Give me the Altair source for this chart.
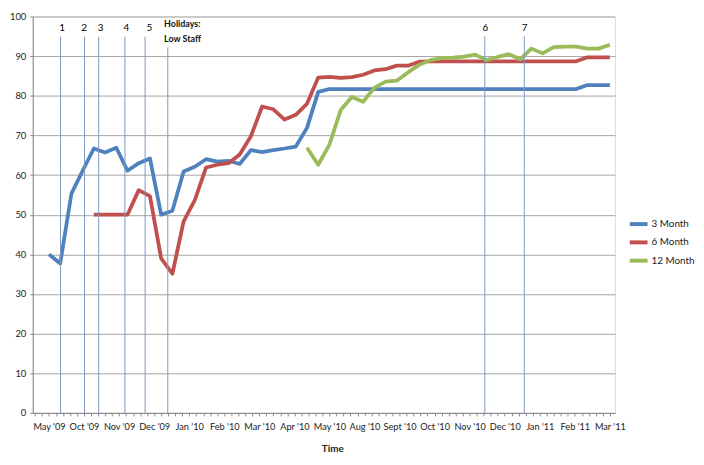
import json
import altair as alt
import pandas as pd

# ---- data ----
x_labels = ["May '09", "Oct '09", "Nov '09", "Dec '09", "Jan '10", "Feb '10",
            "Mar '10", "Apr '10", "May '10", "Aug '10", "Sept '10", "Oct '10",
            "Nov '10", "Dec '10", "Jan '11", "Feb '11", "Mar '11"]

series_names = ["3 Month", "6 Month", "12 Month"]
series_colors = ["#4F81BD", "#C0504D", "#9BBB59"]

m3_start = 0
m3 = [40.0, 37.7, 55.3, 61.1, 66.7, 65.7, 66.9, 61.1, 63.0, 64.2,
      50.0, 51.0, 60.9, 62.1, 64.0, 63.4, 63.6, 62.8, 66.3, 65.8,
      66.3, 66.7, 67.2, 71.9, 81.0] + [81.7] * 23 + [82.7] * 3

m6_start = 4
m6 = [50.0, 50.0, 50.0, 50.0, 56.2, 54.7, 39.0, 35.1, 48.3, 53.7,
      61.9, 62.6, 63.0, 65.2, 69.8, 77.3, 76.6, 74.0, 75.2, 78.0,
      84.6, 84.8, 84.5, 84.7, 85.3, 86.4, 86.7, 87.6, 87.6, 88.6] + [88.7] * 14 + [89.7] * 3

m12_start = 23
m12 = [66.9, 62.6, 67.7, 76.4, 79.7, 78.5, 82.0, 83.6, 83.8, 85.9,
       87.8, 89.0, 89.5, 89.6, 89.9, 90.4, 89.0, 89.8, 90.5, 89.2,
       91.9, 90.7, 92.3, 92.4, 92.4, 91.9, 91.9, 92.9]

# annotation markers (vertical lines) and their labels
marker_x = [1.03, 3.17, 4.43, 6.77, 8.57, 10.59, 38.85, 42.37]
marker_top = [94.9, 94.9, 94.9, 94.9, 94.9, 92.2, 95.0, 95.0]
num_labels = ["1", "2", "3", "4", "5", "6", "7"]
num_label_x = [1.18, 3.14, 4.6, 6.9, 8.94, 38.9, 42.4]
num_label_y = [97.2] * 7
hol_labels = ["Holidays:", "Low Staff"]
hol_x = [10.26, 10.26]
hol_y = [98.0, 94.2]

# ---- tables ----
rows = []
for name, start, vals in [(series_names[0], m3_start, m3),
                          (series_names[1], m6_start, m6),
                          (series_names[2], m12_start, m12)]:
    for i, v in enumerate(vals):
        rows.append({"idx": start + i, "value": v, "series": name})
df = pd.DataFrame(rows)

markers = pd.DataFrame({"x": marker_x, "y0": [0] * len(marker_x), "y1": marker_top})
nums = pd.DataFrame({"x": num_label_x, "y": num_label_y, "t": num_labels})
hols = pd.DataFrame({"x": hol_x, "y": hol_y, "t": hol_labels})

FONT = "Lato"
xdom = [-1.45, 50.45]
xscale = alt.Scale(domain=xdom, nice=False, zero=False)
yscale = alt.Scale(domain=[0, 100], nice=False)

tick_vals = [-1.25 + 0.625 * k for k in range(83) if -1.25 + 0.625 * k <= 50.4]
label_expr = ("(datum.value >= 0 && abs(datum.value/3.125 - round(datum.value/3.125)) < 0.001) ? "
              + json.dumps(x_labels) + "[round(datum.value/3.125)] : ''")

x_axis = alt.Axis(values=tick_vals, labelExpr=label_expr, labelOverlap=False,
                  labelFlush=False, labelBound=False, grid=False, title="Time",
                  titleFontWeight="bold",
                  titleFont=FONT, titleFontSize=10, titleColor="#222", titlePadding=12,
                  titleX=303,
                  labelFont=FONT, labelFontSize=9.3, labelColor="#222", labelPadding=7,
                  tickSize=3, tickColor="#888", domainColor="#888")
y_axis = alt.Axis(values=list(range(0, 101, 10)), grid=True, gridColor="#a5a5a5",
                  title=None, labelFont=FONT, labelFontSize=9.5, labelColor="#222",
                  labelPadding=4, tickSize=3, tickColor="#888", domainColor="#888")

lines = alt.Chart(df).mark_line(strokeWidth=3.8, strokeJoin="round", strokeCap="butt").encode(
    x=alt.X("idx:Q", scale=xscale, axis=x_axis),
    y=alt.Y("value:Q", scale=yscale, axis=y_axis),
    color=alt.Color("series:N",
                    scale=alt.Scale(domain=series_names, range=series_colors),
                    sort=series_names,
                    legend=alt.Legend(orient="none", legendX=603, legendY=200, title=None,
                                      symbolType="M-1.125,0H1.125", symbolStrokeWidth=4,
                                      symbolSize=256, labelFont=FONT, labelFontSize=10,
                                      labelColor="#222", labelOffset=3, rowPadding=0.5)),
    detail="series:N",
)

rules = alt.Chart(markers).mark_rule(color="#7d98c4", strokeWidth=1).encode(
    x=alt.X("x:Q", scale=xscale, axis=x_axis),
    y=alt.Y("y0:Q", scale=yscale, axis=y_axis),
    y2="y1:Q",
)

num_text = alt.Chart(nums).mark_text(font=FONT, fontSize=10, color="#000",
                                     baseline="middle").encode(
    x=alt.X("x:Q", scale=xscale, axis=x_axis),
    y=alt.Y("y:Q", scale=yscale, axis=y_axis), text="t:N")

hol_text = alt.Chart(hols).mark_text(font=FONT, fontSize=9, color="#111",
                                     fontWeight="bold", align="left",
                                     baseline="middle").encode(
    x=alt.X("x:Q", scale=xscale, axis=x_axis),
    y=alt.Y("y:Q", scale=yscale, axis=y_axis), text="t:N")

chart = alt.layer(lines, rules, num_text, hol_text).properties(
    width=589, height=401,
    autosize=alt.AutoSizeParams(type="none"),
    padding={"left": 25, "top": 6, "right": 82, "bottom": 42},
).configure_view(stroke=None).configure(background="white")

chart.save("out.html", embed_options={"renderer": "svg", "actions": False})
